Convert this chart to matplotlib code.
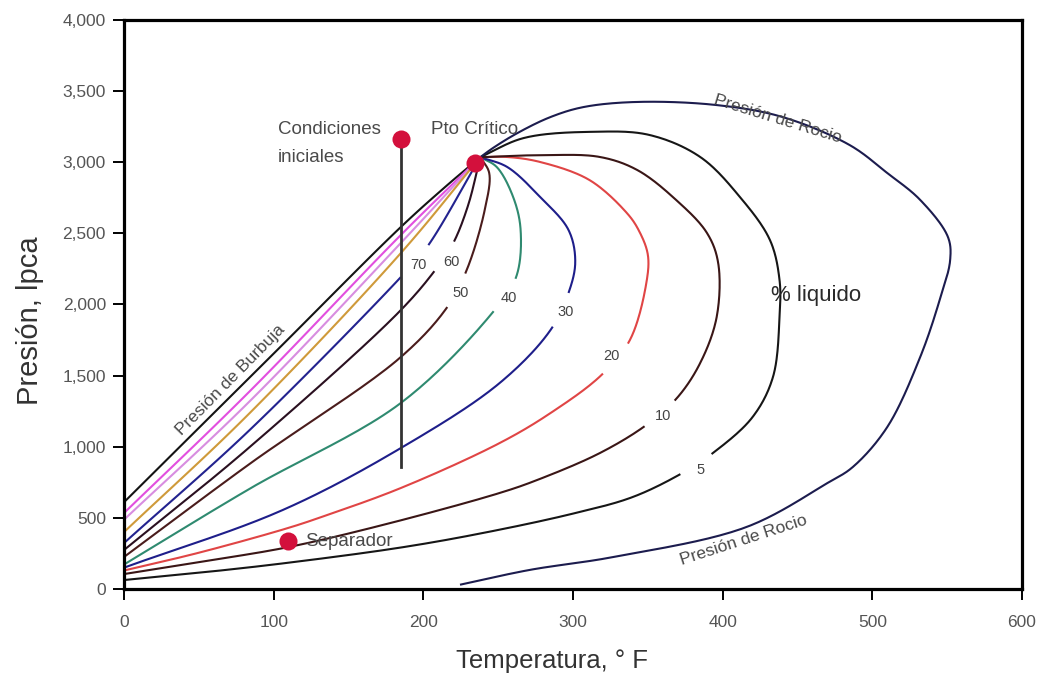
import numpy as np
import matplotlib
matplotlib.use("Agg")
import matplotlib.pyplot as plt
from matplotlib.ticker import FuncFormatter

plt.rcParams['font.family'] = ['Liberation Sans', 'DejaVu Sans']

# ---------------- data ----------------
x_ticks = [0, 100, 200, 300, 400, 500, 600]
y_ticks = [0, 500, 1000, 1500, 2000, 2500, 3000, 3500, 4000]

# bubble-point curve (100 % liquid)
bub_T = [0, 100, 185, 215, 238]
bub_P = [610, 1655, 2545, 2830, 3035]
# unlabeled quality lines close to the bubble curve
q90_T = [0, 84, 185, 238]
q90_P = [534, 1390, 2489, 3035]
q85_T = [0, 84, 185, 238]
q85_P = [487, 1320, 2433, 3035]
q80_T = [0, 84, 185, 238]
q80_P = [400, 1237, 2362, 3035]
# labeled quality lines
q70_T = [0, 84, 185, 202, 238]
q70_P = [323, 1118, 2193, 2397, 3035]
q60_T = [0, 84, 185, 209, 220, 230, 238]
q60_P = [274, 998, 1961, 2257, 2432, 2700, 3035]
q50_T = [0, 84, 185, 216, 229, 241, 244, 238]
q50_P = [225, 880, 1631, 1982, 2243, 2664, 2925, 3035]
q40_T = [0, 84, 185, 246, 262, 265, 260, 249, 238]
q40_P = [172, 705, 1308, 1940, 2193, 2524, 2756, 2967, 3035]
q30_T = [0, 106, 185, 251, 285, 297, 301.5, 297, 278, 256, 238]
q30_P = [150, 555, 991, 1448, 1821, 2081, 2300, 2524, 2756, 2967, 3035]
q20_T = [0, 50, 110, 133, 185, 251, 285, 319, 338, 349, 350, 344, 336, 311, 278, 256, 238]
q20_P = [130, 255, 430, 510, 710, 1026, 1237, 1504, 1750, 2151, 2350, 2520, 2643, 2875, 3002, 3037, 3035]
q10_T = [0, 60, 110, 171, 251, 276, 318, 349, 369.5, 385, 396, 397, 389.5, 369, 343, 318, 280, 238]
q10_P = [105, 205, 295, 445, 675, 766, 956, 1153, 1343, 1589, 1912, 2292, 2503, 2734, 2945, 3037, 3050, 3035]
q5_T = [0, 60, 110, 184, 238, 300, 340, 373, 393.5, 420, 433.6, 438, 438, 431.6, 411.5, 385, 351, 313, 267, 238]
q5_P = [63, 125, 185, 290, 390, 530, 647, 815, 956, 1209, 1490, 1912, 2172, 2453, 2756, 3037, 3192, 3214, 3170, 3035]
# dew-point curve (0 % liquid)
dew_T = [224.5, 271, 327, 416, 470, 487, 510, 532, 545, 552, 550.5, 532, 510, 485, 440, 396, 343, 307, 285, 263, 246.5, 238]
dew_P = [30, 134, 225, 436, 745, 858, 1139, 1631, 2032, 2313, 2475, 2735, 2924, 3120, 3318, 3402, 3424, 3388, 3318, 3206, 3100, 3035]

# percentage labels
pct_text = ['70', '60', '50', '40', '30', '20', '10', '5']
pct_T = [196.4, 219, 225, 257, 295, 326, 360, 385]
pct_P = [2278, 2299, 2081, 2046, 1947, 1638, 1216, 837]

# special points: initial conditions, critical point, separator
pts_T = [185, 234.5, 109.6]
pts_P = [3163, 2995, 337]
# isothermal depletion line
iso_T = [185, 185]
iso_P = [858, 3163]

# ---------------- figure ----------------
fig = plt.figure(figsize=(10.44, 6.77), dpi=100)
ax = fig.add_axes([124 / 1044, 1 - 589 / 677, 898 / 1044, 569 / 677])
ax.set_xlim(0, 600)
ax.set_ylim(0, 4000)


def smooth(xs, ys, n=24):
    """centripetal Catmull-Rom through the points, in display space"""
    pts = ax.transData.transform(np.column_stack([xs, ys]))
    P = np.vstack([2 * pts[0] - pts[1], pts, 2 * pts[-1] - pts[-2]])
    out = []
    for i in range(1, len(P) - 2):
        p0, p1, p2, p3 = P[i - 1], P[i], P[i + 1], P[i + 2]
        t0 = 0.0
        t1 = t0 + max(np.linalg.norm(p1 - p0), 1e-6) ** 0.5
        t2 = t1 + max(np.linalg.norm(p2 - p1), 1e-6) ** 0.5
        t3 = t2 + max(np.linalg.norm(p3 - p2), 1e-6) ** 0.5
        t = np.linspace(t1, t2, n)[:, None]
        A1 = (t1 - t) / (t1 - t0) * p0 + (t - t0) / (t1 - t0) * p1
        A2 = (t2 - t) / (t2 - t1) * p1 + (t - t1) / (t2 - t1) * p2
        A3 = (t3 - t) / (t3 - t2) * p2 + (t - t2) / (t3 - t2) * p3
        B1 = (t2 - t) / (t2 - t0) * A1 + (t - t0) / (t2 - t0) * A2
        B2 = (t3 - t) / (t3 - t1) * A2 + (t - t1) / (t3 - t1) * A3
        C = (t2 - t) / (t2 - t1) * B1 + (t - t1) / (t2 - t1) * B2
        out.append(C if i == len(P) - 3 else C[:-1])
    return np.vstack(out)


def draw(xs, ys, color, gap_at=None, r=19, lw=1.5):
    disp = smooth(xs, ys)
    if gap_at is not None:
        c = ax.transData.transform([gap_at])[0]
        d = np.hypot(disp[:, 0] - c[0], disp[:, 1] - c[1])
        disp = disp.copy()
        disp[d < r] = np.nan
    data = np.full_like(disp, np.nan)
    ok = ~np.isnan(disp[:, 0])
    data[ok] = ax.transData.inverted().transform(disp[ok])
    ax.plot(data[:, 0], data[:, 1], color=color, lw=lw, solid_capstyle='butt', zorder=2)


curves = [
    (bub_T, bub_P, '#141414', None),
    (q90_T, q90_P, '#e24fdf', None),
    (q85_T, q85_P, '#d88de0', None),
    (q80_T, q80_P, '#cf9a3a', None),
    (q70_T, q70_P, '#23238f', 0),
    (q60_T, q60_P, '#2a1020', 1),
    (q50_T, q50_P, '#4a1c1c', 2),
    (q40_T, q40_P, '#2f8a70', 3),
    (q30_T, q30_P, '#1e1e8a', 4),
    (q20_T, q20_P, '#e04545', 5),
    (q10_T, q10_P, '#3a1616', 6),
    (q5_T, q5_P, '#161616', 7),
    (dew_T, dew_P, '#1c1c4e', None),
]
for xs, ys, col, li in curves:
    gap = None if li is None else (pct_T[li], pct_P[li])
    draw(xs, ys, col, gap_at=gap)

for s, t, p in zip(pct_text, pct_T, pct_P):
    ax.text(t, p, s, fontsize=10.5, color='#444444', ha='center', va='center', zorder=3)

# isothermal line and points
ax.plot(iso_T, iso_P, color='#333333', lw=2.0, zorder=3)
ax.plot(pts_T, pts_P, 'o', color='#d3103c', markersize=13, markeredgewidth=0, zorder=4)

tc = '#4a4a4a'
ax.text(103, 3227, 'Condiciones', fontsize=13.5, color=tc, ha='left', va='center')
ax.text(103, 3030, 'iniciales', fontsize=13.5, color=tc, ha='left', va='center')
ax.text(205, 3227, 'Pto Crítico', fontsize=13.5, color=tc, ha='left', va='center')
ax.text(121, 337, 'Separador', fontsize=13.5, color=tc, ha='left', va='center', zorder=5)
ax.text(432, 2060, '% liquido', fontsize=16, color='#2a2a2a', ha='left', va='center')
ax.text(71, 1470, 'Presión de Burbuja', fontsize=12.5, color=tc, ha='center', va='center',
        rotation=45.5, rotation_mode='anchor')
ax.text(437, 3300, 'Presión de Rocio', fontsize=12.5, color=tc, ha='center', va='center',
        rotation=-17, rotation_mode='anchor')
ax.text(414, 344, 'Presión de Rocio', fontsize=12.5, color=tc, ha='center', va='center',
        rotation=18, rotation_mode='anchor')

# axes styling
ax.set_xticks(x_ticks)
ax.set_yticks(y_ticks)
ax.yaxis.set_major_formatter(FuncFormatter(lambda v, _: f'{int(v):,}'))
ax.tick_params(axis='both', direction='out', length=8, width=1.4, color='black',
               labelsize=12.5, labelcolor='#555555')
ax.tick_params(axis='x', pad=11)
ax.tick_params(axis='y', pad=5)
for sp in ax.spines.values():
    sp.set_linewidth(2.3)
    sp.set_color('black')

fig.text(30 / 1044, 1 - 321 / 677, 'Presión, lpca', fontsize=21, color='#333333',
         rotation=90, ha='center', va='center')
fig.text(552 / 1044, 0.013, 'Temperatura, ° F', fontsize=18.5, color='#333333',
         ha='center', va='baseline')

fig.savefig('out.png', dpi=100)
